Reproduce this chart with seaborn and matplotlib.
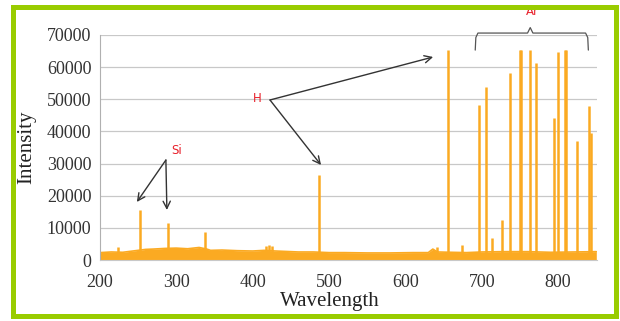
import numpy as np
import pandas as pd
import matplotlib
matplotlib.use("Agg")
import matplotlib.pyplot as plt
from matplotlib.patches import Rectangle
import seaborn as sns

# baseline of the spectrum (dense noise band)
base_wl = [200, 215, 230, 240, 250, 260, 270, 285, 300, 315, 330, 340, 345, 360, 380,
           400, 415, 430, 440, 460, 480, 500, 520, 550, 580, 610, 630, 636, 642, 660,
           680, 700, 730, 760, 790, 820, 850]
base_int = [2300, 2500, 2400, 2700, 3000, 3300, 3400, 3600, 3700, 3500, 3900, 3400, 3000,
            3100, 2900, 2800, 3000, 2800, 2700, 2500, 2500, 2300, 2300, 2200, 2200, 2300,
            2300, 3400, 2500, 2400, 2300, 2500, 2600, 2600, 2400, 2500, 2600]

# emission lines
peak_wl = [223.6, 253, 289, 337.5, 417, 421, 425, 487, 641, 656.5, 674, 695.8, 706, 714,
           726.4, 737.4, 750.5, 751.5, 762.7, 771.4, 794, 799.8, 809.4, 810.5, 824.8,
           840.9, 842.5]
peak_int = [4200, 15600, 11600, 8800, 4300, 4800, 4400, 26400, 4000, 65400, 4600, 48200,
            53700, 6800, 12400, 58300, 65400, 65400, 65400, 61200, 44100, 64800, 65400,
            65400, 37100, 47900, 39500]

yticks = [0, 10000, 20000, 30000, 40000, 50000, 60000, 70000]
xticks = [200, 300, 400, 500, 600, 700, 800]

# annotation anchors (data coords)
si_text = (300.9, 34200)
si_from = (286.5, 31100)
si_to = [(248.5, 18050), (287.8, 15560)]
h_text = (405.8, 50100)
h_from = (422.8, 49780)
h_to = [(636.4, 63160), (489.6, 29560)]
ar_text = (766, 77200)
bracket_x = [691.5, 692.3, 695, 760, 763.5, 767, 836, 838.8, 839.6]
bracket_y = [65300, 69200, 70600, 70600, 72300, 70600, 70600, 69200, 65300]

orange = "#FBAA22"
red = "#E8202A"
ink = "#333333"

sns.set_style("white")
plt.rcParams["font.family"] = ["Liberation Serif", "DejaVu Serif"]

fig = plt.figure(figsize=(6.2, 3.21), dpi=100)
ax = fig.add_axes([0.161, 0.190, 0.802, 0.701])

df = pd.DataFrame({"Wavelength": base_wl, "Intensity": base_int})
ax.fill_between(base_wl, 0, base_int, color=orange, lw=0)
sns.lineplot(data=df, x="Wavelength", y="Intensity", color=orange, lw=1.2, ax=ax)
ax.vlines(peak_wl, 0, peak_int, color=orange, lw=1.8)

ax.set_xlim(200, 851)
ax.set_ylim(0, 70000)
ax.set_xticks(xticks)
ax.set_yticks(yticks)
ax.grid(axis="y", color="#c8c8c8", lw=0.9)
ax.set_axisbelow(True)
for s in ["top", "right"]:
    ax.spines[s].set_visible(False)
ax.spines["left"].set_color("#b0b0b0")
ax.spines["bottom"].set_color("#c8c8c8")
ax.tick_params(axis="both", direction="out", length=4, width=0.8, color="#999999",
               labelsize=13, labelcolor="#333333")
ax.tick_params(axis="x", pad=6)
ax.tick_params(axis="y", pad=2)
ax.set_xlabel("Wavelength", fontsize=15, color="#222222")
ax.set_ylabel("Intensity", fontsize=15, color="#222222")
ax.xaxis.set_label_coords(0.462, -0.142)
ax.yaxis.set_label_coords(-0.127, 0.5)

# annotations
arrow = dict(arrowstyle="->", lw=1.0, color=ink, mutation_scale=13, shrinkA=0, shrinkB=0)
ax.text(*si_text, "Si", color=red, fontsize=8.5, family="DejaVu Sans", ha="center", va="center")
for end in si_to:
    ax.annotate("", xy=end, xytext=si_from, arrowprops=arrow, annotation_clip=False)
ax.text(*h_text, "H", color=red, fontsize=8.5, family="DejaVu Sans", ha="center", va="center")
for end in h_to:
    ax.annotate("", xy=end, xytext=h_from, arrowprops=arrow, annotation_clip=False)
ax.plot(bracket_x, bracket_y, color="#555555", lw=0.9, clip_on=False)
ax.text(*ar_text, "Ar", color=red, fontsize=8.5, family="DejaVu Sans", ha="center",
        va="center", clip_on=False)

# green frame
fig.patches.append(Rectangle((12.5 / 620, 1 - 315.5 / 321), 603 / 620, 309 / 321,
                             transform=fig.transFigure, fill=False, ec="#99CC00", lw=3.6))

fig.savefig("out.png", dpi=100)
